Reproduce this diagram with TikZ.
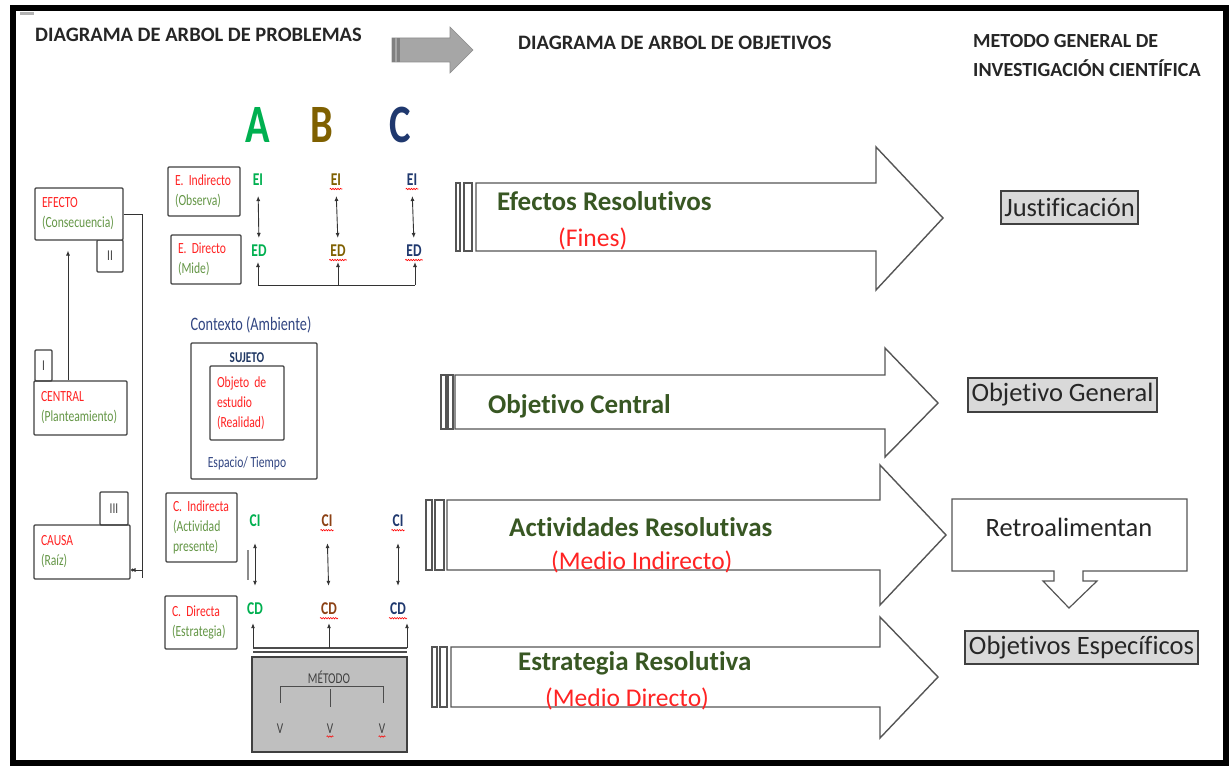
\documentclass[tikz,border=0pt]{standalone}
\usepackage{fontspec}
\setmainfont{Carlito}[Ligatures=NoCommon]
\newfontfamily\condfont[FakeStretch=0.75,Ligatures=NoCommon]{Carlito}
\usetikzlibrary{arrows.meta,decorations.pathmorphing,calc}
\definecolor{redT}{RGB}{255,35,35}
\definecolor{greenT}{RGB}{100,150,70}
\definecolor{aG}{RGB}{0,176,80}
\definecolor{bG}{RGB}{127,96,0}
\definecolor{bBr}{RGB}{140,65,20}
\definecolor{cG}{RGB}{31,56,110}
\definecolor{blueT}{RGB}{50,70,130}
\definecolor{navyT}{RGB}{32,56,100}
\definecolor{titleG}{RGB}{56,87,35}
\definecolor{boxc}{RGB}{64,64,64}
\definecolor{arrowc}{RGB}{85,85,85}
\definecolor{lightbg}{RGB}{217,217,217}
\definecolor{metgray}{RGB}{191,191,191}
\definecolor{hdrgray}{RGB}{166,166,166}
\definecolor{hdrdark}{RGB}{128,128,128}
\definecolor{textk}{RGB}{38,38,38}
\begin{document}
\begin{tikzpicture}[x=1pt,y=-1pt,
  box/.style={draw=boxc, line width=1.1pt, rounded corners=1pt, inner xsep=7pt, inner ysep=0pt, align=left, font=\condfont\fontsize{15.5}{20}\selectfont},
  numbox/.style={draw=boxc, line width=1.1pt, rounded corners=1pt, inner sep=0pt, text=boxc, font=\condfont\fontsize{15}{18}\selectfont},
  lab/.style={inner sep=1pt, font=\condfont\bfseries\fontsize{18}{20}\selectfont},
  big/.style={inner sep=0pt, anchor=base, font=\condfont\bfseries\fontsize{54}{54}\selectfont},
  conn/.style={draw=black!80, line width=0.9pt},
  arr/.style={conn, -{Latex[length=5pt,width=4pt]}},
  darr/.style={conn, {Latex[length=5pt,width=4pt]}-{Latex[length=5pt,width=4pt]}},
  blk/.style={draw=arrowc, line width=1.4pt, fill=white, line join=miter},
  stripe/.style={draw=arrowc, line width=1.1pt, fill=white},
  rbox/.style={draw=boxc, line width=1.2pt, fill=lightbg, inner sep=0pt, text=textk, font=\fontsize{26.5}{30}\selectfont},
  squig/.style={draw=red, line width=0.6pt, decorate, decoration={snake, amplitude=0.7pt, segment length=2.5pt}},
  ttl/.style={inner sep=0pt, anchor=base west, text=titleG, font=\bfseries\fontsize{27}{30}\selectfont},
  subt/.style={inner sep=0pt, anchor=base west, text=redT, font=\fontsize{25.5}{30}\selectfont},
  hdr/.style={inner sep=0pt, anchor=base west, text=textk, font=\bfseries\fontsize{20.5}{28}\selectfont},
  small/.style={inner sep=0pt, font=\condfont\fontsize{15.5}{20}\selectfont}
]
\useasboundingbox (0,0) rectangle (1229,768);
\fill[white] (0,0) rectangle (1229,768);
\draw[line width=6pt] (13,8.5) rectangle (1225.5,763);
\fill[black!30] (20,12) rectangle (34,15.5);

% headers
\node[hdr] (h1) at (35,41.5) {DIAGRAMA DE ARBOL DE PROBLEMAS};
\node[hdr] (h2) at (518,50) {DIAGRAMA DE ARBOL DE OBJETIVOS};
\node[hdr, font=\bfseries\fontsize{20}{28}\selectfont] (h3a) at (973,48) {METODO GENERAL DE};
\node[hdr, font=\bfseries\fontsize{20}{28}\selectfont] (h3b) at (973,77) {INVESTIGACIÓN CIENTÍFICA};

% header arrow
\fill[hdrgray, draw=hdrgray!85!black, line width=0.6pt] (392,38) -- (450,38) -- (450,27) -- (473,50) -- (450,73) -- (450,62) -- (392,62) -- cycle;
\fill[hdrdark] (392,38) rectangle (394.5,62);
\fill[hdrdark] (397,38) rectangle (399.5,62);

% left column
\node[numbox, minimum width=26pt, minimum height=32pt] (b2) at (110,256) {II};
\node[box, text width=74pt, minimum height=52pt, fill=white] (efecto) at (79,214) {\textcolor{redT}{EFECTO}\\\textcolor{greenT}{(Consecuencia)}};
\node[numbox, minimum width=17pt, minimum height=31pt] (b1) at (43.5,365.5) {I};
\node[box, text width=79pt, minimum height=54pt] (central) at (80.5,408) {\textcolor{redT}{CENTRAL}\\\textcolor{greenT}{(Planteamiento)}};
\node[numbox, minimum width=28pt, minimum height=33pt] (b3) at (114,508.5) {III};
\node[box, text width=82pt, minimum height=54pt] (causa) at (82,552) {\textcolor{redT}{CAUSA}\\\textcolor{greenT}{(Raíz)}};

\coordinate (cx) at (68,0);
\draw[arr, shorten >=10pt] (central.north -| cx) -- (efecto.south -| cx);
\coordinate (rb) at (142,578);
\coordinate (rc) at (142,570);
\draw[conn] (efecto.east) -| (rb);
\draw[arr] (rc) -- (rc -| causa.east);
\fill[black!80] (rc -| causa.east) ++(2,0) circle (1.6pt);

% A B C
\node[big, text=aG] (la) at (257.5,142) {A};
\node[big, text=bG] (lb) at (322,142) {B};
\node[big, text=cG] (lc) at (400,142) {C};

% effects boxes
\node[box, text width=58pt, minimum height=49pt] (eind) at (204,191.5) {\textcolor{redT}{E. Indirecto}\\\textcolor{greenT}{(Observa)}};
\node[box, text width=56pt, minimum height=49pt] (edir) at (206,259.5) {\textcolor{redT}{E. Directo}\\\textcolor{greenT}{(Mide)}};

\node[lab, text=aG] (eiA) at (258,180) {EI};
\node[lab, text=bG] (eiB) at (336,180) {EI};
\node[lab, text=cG] (eiC) at (412,180) {EI};
\node[lab, text=aG] (edA) at (259,251) {ED};
\node[lab, text=bG] (edB) at (338,251) {ED};
\node[lab, text=cG] (edC) at (414,251) {ED};
\foreach \n in {eiB,eiC,edB,edC}{
  \draw[squig] ([yshift=-2pt]\n.south west) -- ([yshift=-2pt]\n.south east);
}
\draw[darr, shorten <=9pt, shorten >=6pt] (eiA.south) -- (edA.north);
\draw[darr, shorten <=9pt, shorten >=6pt] (eiB.south) -- (edB.north);
\draw[darr, shorten <=9pt, shorten >=6pt] (eiC.south) -- (edC.north);
\coordinate (edl) at (258,285);
\coordinate (edr) at (415,285);
\draw[conn] (edl) -- (edr);
\draw[arr, shorten >=4pt] (edl) -- (edl |- edA.south);
\draw[arr, shorten >=4pt] (edB.south |- edl) -- (edB.south);
\draw[arr, shorten >=4pt] (edr) -- (edr |- edC.south);

% context
\node[small, text=blueT, font=\condfont\fontsize{19}{22}\selectfont] (ctxl) at (251,325) {Contexto (Ambiente)};
\node[draw=boxc, line width=1.1pt, rounded corners=1pt, minimum width=126pt, minimum height=136pt, inner sep=0pt] (ctx) at (254,411) {};
\node[small, text=navyT, font=\condfont\bfseries\fontsize{15}{18}\selectfont] (suj) at (247,358) {SUJETO};
\node[box, text width=60pt, minimum height=74pt, text=redT] (obj) at (247,403) {Objeto de\\estudio\\(Realidad)};
\node[small, text=blueT] (esp) at (247,463) {Espacio/ Tiempo};

% causes boxes
\node[box, text width=57pt, minimum height=69pt] (cind) at (201.5,527.5) {\textcolor{redT}{C. Indirecta}\\\textcolor{greenT}{(Actividad}\\\textcolor{greenT}{presente)}};
\node[box, text width=58pt, minimum height=53pt] (cdir) at (201,622.5) {\textcolor{redT}{C. Directa}\\\textcolor{greenT}{(Estrategia)}};

\node[lab, text=aG] (ciA) at (255,521) {CI};
\node[lab, text=bBr] (ciB) at (327,521) {CI};
\node[lab, text=cG] (ciC) at (398,521) {CI};
\node[lab, text=aG] (cdA) at (255,609) {CD};
\node[lab, text=bBr] (cdB) at (329,609) {CD};
\node[lab, text=cG] (cdC) at (398,609) {CD};
\foreach \n in {ciB,ciC,cdB,cdC}{
  \draw[squig] ([yshift=-2pt]\n.south west) -- ([yshift=-2pt]\n.south east);
}
\draw[darr, shorten <=15pt, shorten >=16pt] (ciA.south) -- (cdA.north);
\draw[darr, shorten <=15pt, shorten >=16pt] (ciB.south) -- (cdB.north);
\draw[darr, shorten <=15pt, shorten >=16pt] (ciC.south) -- (cdC.north);
\draw[black!45, line width=1.6pt] (248,550) -- (248,580);

\coordinate (cdl) at (253,648);
\coordinate (cdr) at (407,648);
\draw[black!70, line width=1.6pt] (cdl) -- (cdr);
\draw[black!70, line width=1.3pt] ($(cdl)+(0,4)$) -- ($(cdr)+(0,4)$);
\draw[arr, shorten >=7pt] (cdl) -- (cdl |- cdA.south);
\draw[arr, shorten >=7pt] (cdB.south |- cdl) -- (cdB.south);
\draw[arr, shorten >=7pt] (cdr) -- (cdr |- cdC.south);

% metodo
\node[draw=boxc, fill=metgray, line width=2pt, minimum width=155pt, minimum height=95pt, inner sep=0pt] (metodo) at (329.5,704.5) {};
\node[small, text=black!75, font=\condfont\fontsize{15}{18}\selectfont] (mtxt) at (329,677) {MÉTODO};
\draw[black!70, line width=1pt] (280,686) -- (383,686);
\draw[black!70, line width=1pt] (280,686) -- (280,703);
\draw[black!70, line width=1pt] (330,689) -- (330,707);
\draw[black!70, line width=1pt] (383,686) -- (383,703);
\node[small, text=black!75, font=\condfont\fontsize{15}{18}\selectfont] (v1) at (280,729) {V};
\node[small, text=black!75, font=\condfont\fontsize{15}{18}\selectfont] (v2) at (330,729) {V};
\node[small, text=black!75, font=\condfont\fontsize{15}{18}\selectfont] (v3) at (382,729) {V};
\foreach \n in {v2,v3}{
  \draw[squig] ([yshift=-2.5pt]\n.south west) -- ([yshift=-2.5pt]\n.south east);
}

% block arrows
\draw[blk] (476,183) -- (876,183) -- (876,147) -- (943,218) -- (876,290) -- (876,251) -- (476,251) -- cycle;
\draw[stripe] (456,183) rectangle (460,251);
\draw[stripe] (464,183) rectangle (472,251);
\node[ttl] (t1) at (497,210) {Efectos Resolutivos};
\node[subt] (s1) at (558,246) {(Fines)};

\draw[blk] (455,375) -- (885,375) -- (885,348) -- (938,403) -- (885,457) -- (885,429) -- (455,429) -- cycle;
\draw[stripe] (441,375) rectangle (446,429);
\draw[stripe] (448,375) rectangle (453,429);
\node[ttl] (t2) at (488,413) {Objetivo Central};

\draw[blk] (447,500) -- (880,500) -- (880,465) -- (946,535) -- (880,605) -- (880,570) -- (447,570) -- cycle;
\draw[stripe] (426,500) rectangle (432,570);
\draw[stripe] (435,500) rectangle (444,570);
\node[ttl] (t3) at (509,536) {Actividades Resolutivas};
\node[subt] (s3) at (551,569) {(Medio Indirecto)};

\draw[blk] (451,647) -- (880,647) -- (880,617) -- (938,677) -- (880,738) -- (880,707) -- (451,707) -- cycle;
\draw[stripe] (432,647) rectangle (437,707);
\draw[stripe] (440,647) rectangle (447,707);
\node[ttl] (t4) at (518,670) {Estrategia Resolutiva};
\node[subt] (s4) at (545,706) {(Medio Directo)};

% right column
\node[rbox, minimum width=137pt, minimum height=33pt] (just) at (1069.5,207.5) {Justificación};
\node[rbox, minimum width=189pt, minimum height=34pt] (objgen) at (1062.5,395) {Objetivo General};
\draw[draw=arrowc, line width=1.2pt, fill=white, line join=miter] (952,499) -- (1187,499) -- (1187,571) -- (1083,571) -- (1083,581) -- (1097,581) -- (1069,608) -- (1043,581) -- (1054,581) -- (1054,571) -- (952,571) -- cycle;
\node[inner sep=0pt, text=textk, font=\fontsize{26.5}{30}\selectfont] (retro) at (1069,527) {Retroalimentan};
\node[rbox, minimum width=233pt, minimum height=33pt] (objesp) at (1081.5,647.5) {Objetivos Específicos};
\end{tikzpicture}
\end{document}
